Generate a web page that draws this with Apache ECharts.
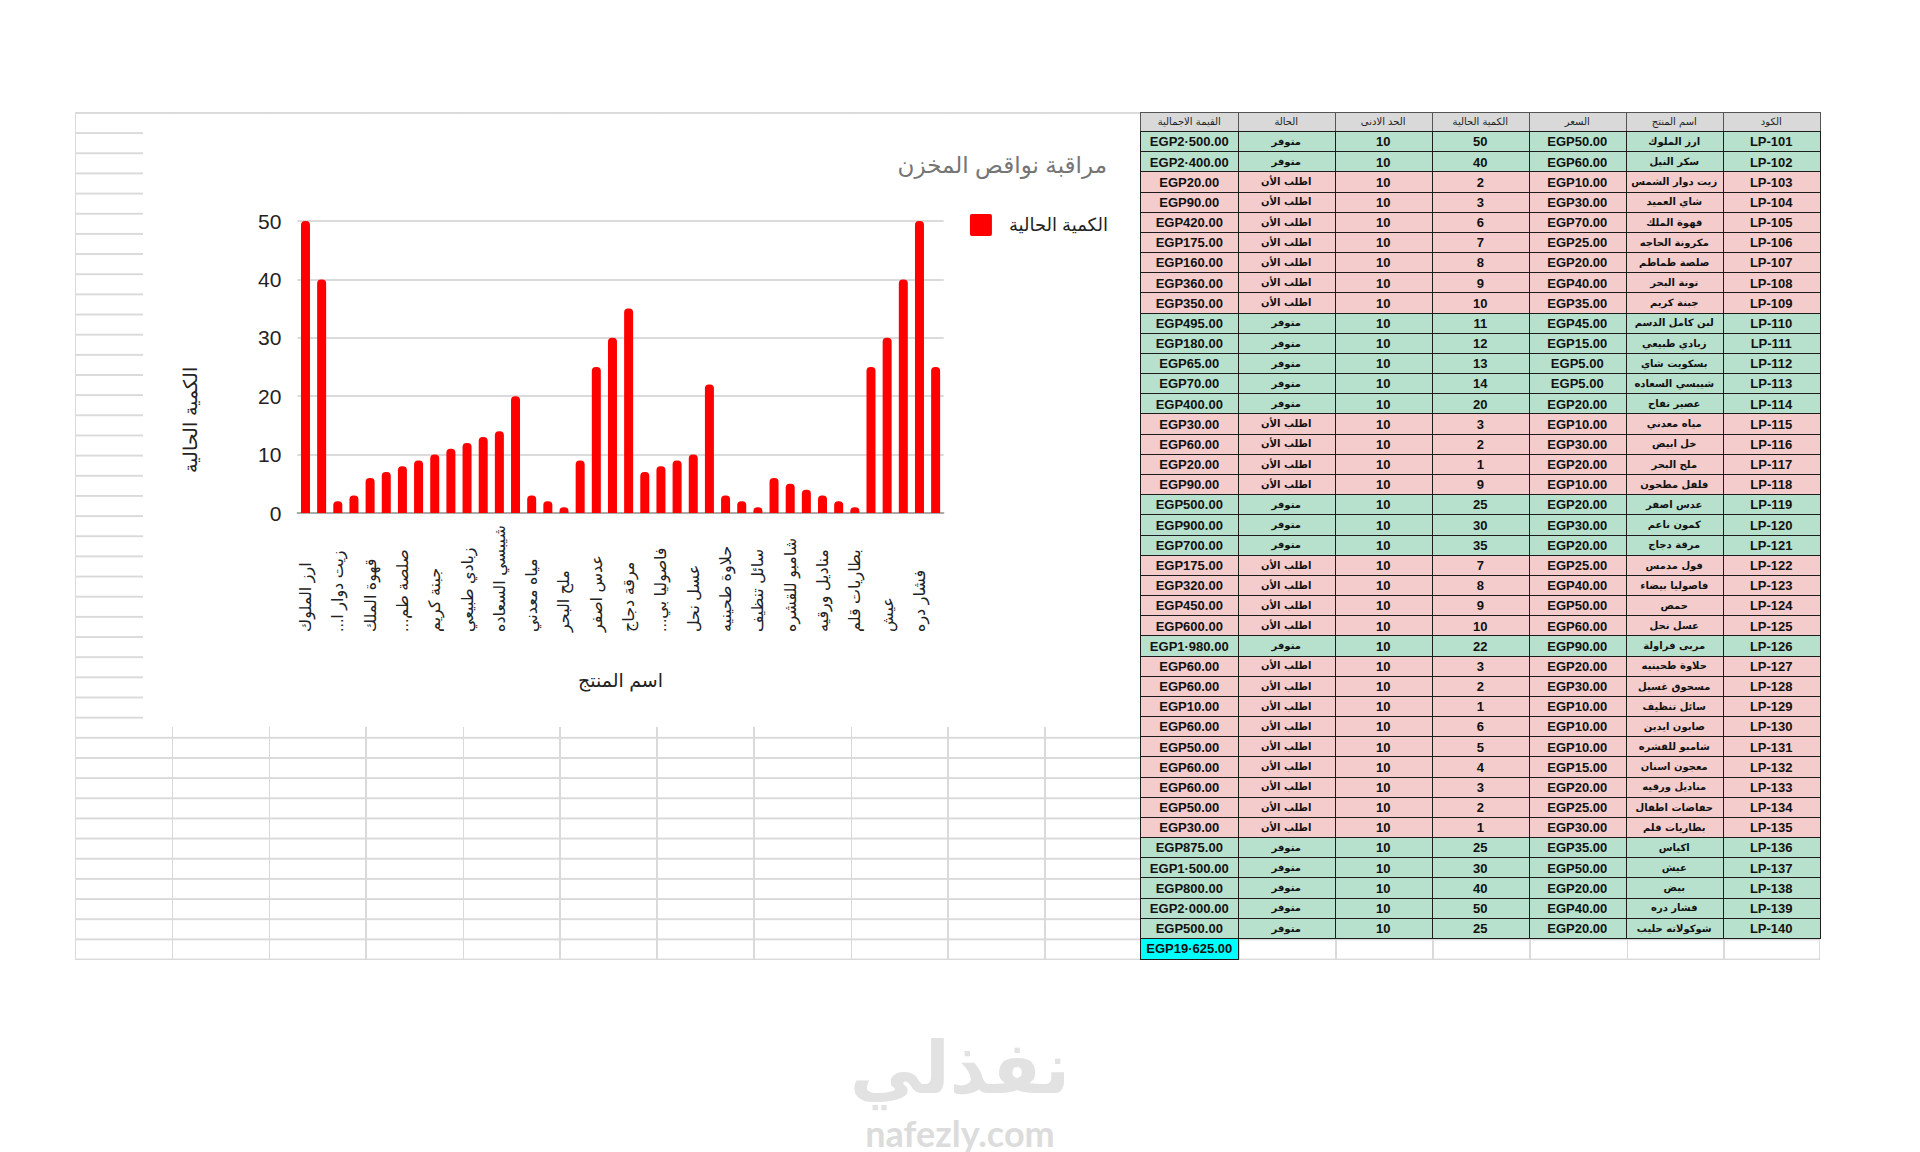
<!DOCTYPE html>
<html><head><meta charset="utf-8">
<script src="https://cdn.jsdelivr.net/npm/echarts/dist/echarts.min.js"></script>
<style>
html,body{margin:0;padding:0;background:#fff;width:1920px;height:1152px;overflow:hidden;font-family:"Liberation Sans",Arial,"DejaVu Sans",sans-serif;}
#sheet{position:absolute;left:75px;top:112px;width:1743px;height:847px;box-sizing:content-box;border-left:1.5px solid #dadada;border-right:1.5px solid #dadada;border-bottom:1.5px solid #dadada;
background-image:linear-gradient(to right,#dadada 1.5px,transparent 1.5px),linear-gradient(to bottom,#dadada 1.5px,transparent 1.5px);
background-size:97px 20.17px;background-position:95px 0;}
#chart{position:absolute;left:143px;top:114px;width:997px;height:613px;background:#fff;}
.cell{position:absolute;box-sizing:border-box;border:1.5px solid #1c1c1c;display:flex;align-items:center;justify-content:center;font-weight:bold;font-size:13px;color:#111;white-space:nowrap;overflow:hidden;line-height:1;}
.hd{background:#d9d9d9;font-weight:normal;font-size:10px;color:#222;font-family:"DejaVu Sans",sans-serif;border-color:#555;}
.ar{font-family:"DejaVu Sans",sans-serif;font-size:10px;}
.wm1{position:absolute;left:710px;width:500px;top:1026px;height:84px;text-align:center;font-family:"DejaVu Sans",sans-serif;font-weight:bold;font-size:72px;color:#e2e2e2;line-height:84px;}
.wm2{position:absolute;left:710px;width:500px;top:1114px;height:38px;text-align:center;font-family:Lato,"Open Sans",sans-serif;font-weight:bold;font-size:36px;color:#dcdcdc;line-height:38px;}
</style></head>
<body>
<div id="sheet"></div>
<div id="chart"></div>
<div class="wm1">نفذلي</div>
<div class="wm2">nafezly.com</div>
<script>
// ---------- data ----------
const chartTitle = 'مراقبة نواقص المخزن';
const seriesName = 'الكمية الحالية';
const xAxisName = 'اسم المنتج';
const yAxisName = 'الكمية الحالية';
const codes = ['LP-101','LP-102','LP-103','LP-104','LP-105','LP-106','LP-107','LP-108','LP-109','LP-110','LP-111','LP-112','LP-113','LP-114','LP-115','LP-116','LP-117','LP-118','LP-119','LP-120','LP-121','LP-122','LP-123','LP-124','LP-125','LP-126','LP-127','LP-128','LP-129','LP-130','LP-131','LP-132','LP-133','LP-134','LP-135','LP-136','LP-137','LP-138','LP-139','LP-140'];
const productNames = ['ارز الملوك','سكر النيل','زيت دوار الشمس','شاي العميد','قهوة الملك','مكرونة الحاجه','صلصة طماطم','تونة البحر','جبنة كريم','لبن كامل الدسم','زبادي طبيعي','بسكويت شاي','شيبسي السعاده','عصير تفاح','مياه معدني','خل ابيض','ملح البحر','فلفل مطحون','عدس اصفر','كمون ناعم','مرقة دجاج','فول مدمس','فاصوليا بيضاء','حمص','عسل نحل','مربى فراولة','حلاوة طحينيه','مسحوق غسيل','سائل تنظيف','صابون ايدين','شامبو للقشره','معجون اسنان','مناديل ورقيه','حفاضات اطفال','بطاريات قلم','اكياس','عيش','بيض','فشار دره','شوكولاته حليب'];
const prices = [50,60,10,30,70,25,20,40,35,45,15,5,5,20,10,30,20,10,20,30,20,25,40,50,60,90,20,30,10,10,10,15,20,25,30,35,50,20,40,20];
const quantities = [50,40,2,3,6,7,8,9,10,11,12,13,14,20,3,2,1,9,25,30,35,7,8,9,10,22,3,2,1,6,5,4,3,2,1,25,30,40,50,25];
const minimums = [10,10,10,10,10,10,10,10,10,10,10,10,10,10,10,10,10,10,10,10,10,10,10,10,10,10,10,10,10,10,10,10,10,10,10,10,10,10,10,10];
const S1 = 'متوفر', S2 = 'اطلب الأن';
const statuses = [S1,S1,S2,S2,S2,S2,S2,S2,S2,S1,S1,S1,S1,S1,S2,S2,S2,S2,S1,S1,S1,S2,S2,S2,S2,S1,S2,S2,S2,S2,S2,S2,S2,S2,S2,S1,S1,S1,S1,S1];
const totalValues = [2500,2400,20,90,420,175,160,360,350,495,180,65,70,400,30,60,20,90,500,900,700,175,320,450,600,1980,60,60,10,60,50,60,60,50,30,875,1500,800,2000,500];
const grandTotal = 19625;
const tableHeaders = ['الكود','اسم المنتج','السعر','الكمية الحالية','الحد الادنى','الحالة','القيمة الاجمالية'];
const tickLabels = ['ارز الملوك','زيت دوار ا...','قهوة الملك','صلصة طم...','جبنة كريم','زبادي طبيعي','شيبسي السعاده','مياه معدني','ملح البحر','عدس اصفر','مرقة دجاج','فاصوليا بي...','عسل نحل','حلاوة طحينيه','سائل تنظيف','شامبو للقشره','مناديل ورقيه','بطاريات قلم','عيش','فشار دره'];
const yTicks = {min:0, max:50, interval:10};

// ---------- table ----------
function money(v){
  const s = v.toFixed(2).replace(/\B(?=(\d{3})+(?!\d))/g,'\u00B7');
  return 'EGP' + s;
}
const T_LEFT = 1140, T_TOP = 112, COLW = 97, HEAD_H = 19, ROW_H = 20.175;
function addCell(col, top, h, text, cls, bg){
  const d = document.createElement('div');
  d.className = 'cell ' + (cls||'');
  d.style.left = (T_LEFT + (6-col)*COLW) + 'px';
  d.style.top = top + 'px';
  d.style.width = (COLW + 1.5) + 'px';
  d.style.height = (h + 1.5) + 'px';
  if (bg) d.style.background = bg;
  d.textContent = text;
  document.body.appendChild(d);
  return d;
}
tableHeaders.forEach((h,c)=>addCell(c, T_TOP, HEAD_H, h, 'hd'));
for (let i=0;i<codes.length;i++){
  const top = T_TOP + HEAD_H + i*ROW_H;
  const bg = statuses[i]===S1 ? '#b7e1cd' : '#f4cccc';
  addCell(0, top, ROW_H, codes[i], '', bg);
  addCell(1, top, ROW_H, productNames[i], 'ar', bg);
  addCell(2, top, ROW_H, money(prices[i]), '', bg);
  addCell(3, top, ROW_H, String(quantities[i]), '', bg);
  addCell(4, top, ROW_H, String(minimums[i]), '', bg);
  addCell(5, top, ROW_H, statuses[i], 'ar', bg);
  addCell(6, top, ROW_H, money(totalValues[i]), '', bg);
}
addCell(6, T_TOP + HEAD_H + codes.length*ROW_H, ROW_H, money(grandTotal), '', '#00ffff');

// ---------- chart ----------
const chart = echarts.init(document.getElementById('chart'), null, {renderer:'svg'});
chart.setOption({
  animation:false,
  backgroundColor:'#ffffff',
  textStyle:{fontFamily:'"Liberation Sans", Arial, "DejaVu Sans", sans-serif'},
  title:{text:chartTitle, right:28, top:34, textStyle:{fontSize:23, fontWeight:'normal', color:'#757575'}},
  legend:{right:27, top:95, itemWidth:22, itemHeight:22, icon:'path://M2,0 L20,0 Q22,0 22,2 L22,20 Q22,22 20,22 L2,22 Q0,22 0,20 L0,2 Q0,0 2,0 Z',
    itemStyle:{color:'#ff0000'},
    textStyle:{fontSize:18, color:'#222', padding:[0,0,0,12]}, data:[seriesName]},
  grid:{left:154.4, right:196.3, top:107, bottom:214},
  xAxis:{type:'category', data:productNames, name:xAxisName, nameLocation:'middle', nameGap:158,
    nameTextStyle:{fontSize:19, color:'#222'},
    axisTick:{show:false}, axisLine:{lineStyle:{color:'#9a9a9a', width:1.5}},
    axisLabel:{interval:1, rotate:90, align:'left', margin:119, fontSize:16, color:'#222',
      formatter:(v,i)=> tickLabels[Math.floor(i/2)] + '\u200F'}},
  yAxis:{type:'value', min:yTicks.min, max:yTicks.max, interval:yTicks.interval,
    axisLabel:{fontSize:21, color:'#222', margin:16},
    axisLine:{show:false}, axisTick:{show:false},
    splitLine:{lineStyle:{color:'#cfcfcf', width:1.5}}},
  graphic:[{type:'text', x:47, y:306, rotation:Math.PI/2,
    style:{text:yAxisName, fontSize:19, fill:'#222', align:'center', verticalAlign:'middle', textAlign:'center', textVerticalAlign:'middle'}}],
  series:[{type:'bar', name:seriesName, data:quantities, barWidth:9,
    itemStyle:{color:'#ff0000', borderRadius:[4,4,0,0]}}]
});
</script>
</body></html>
